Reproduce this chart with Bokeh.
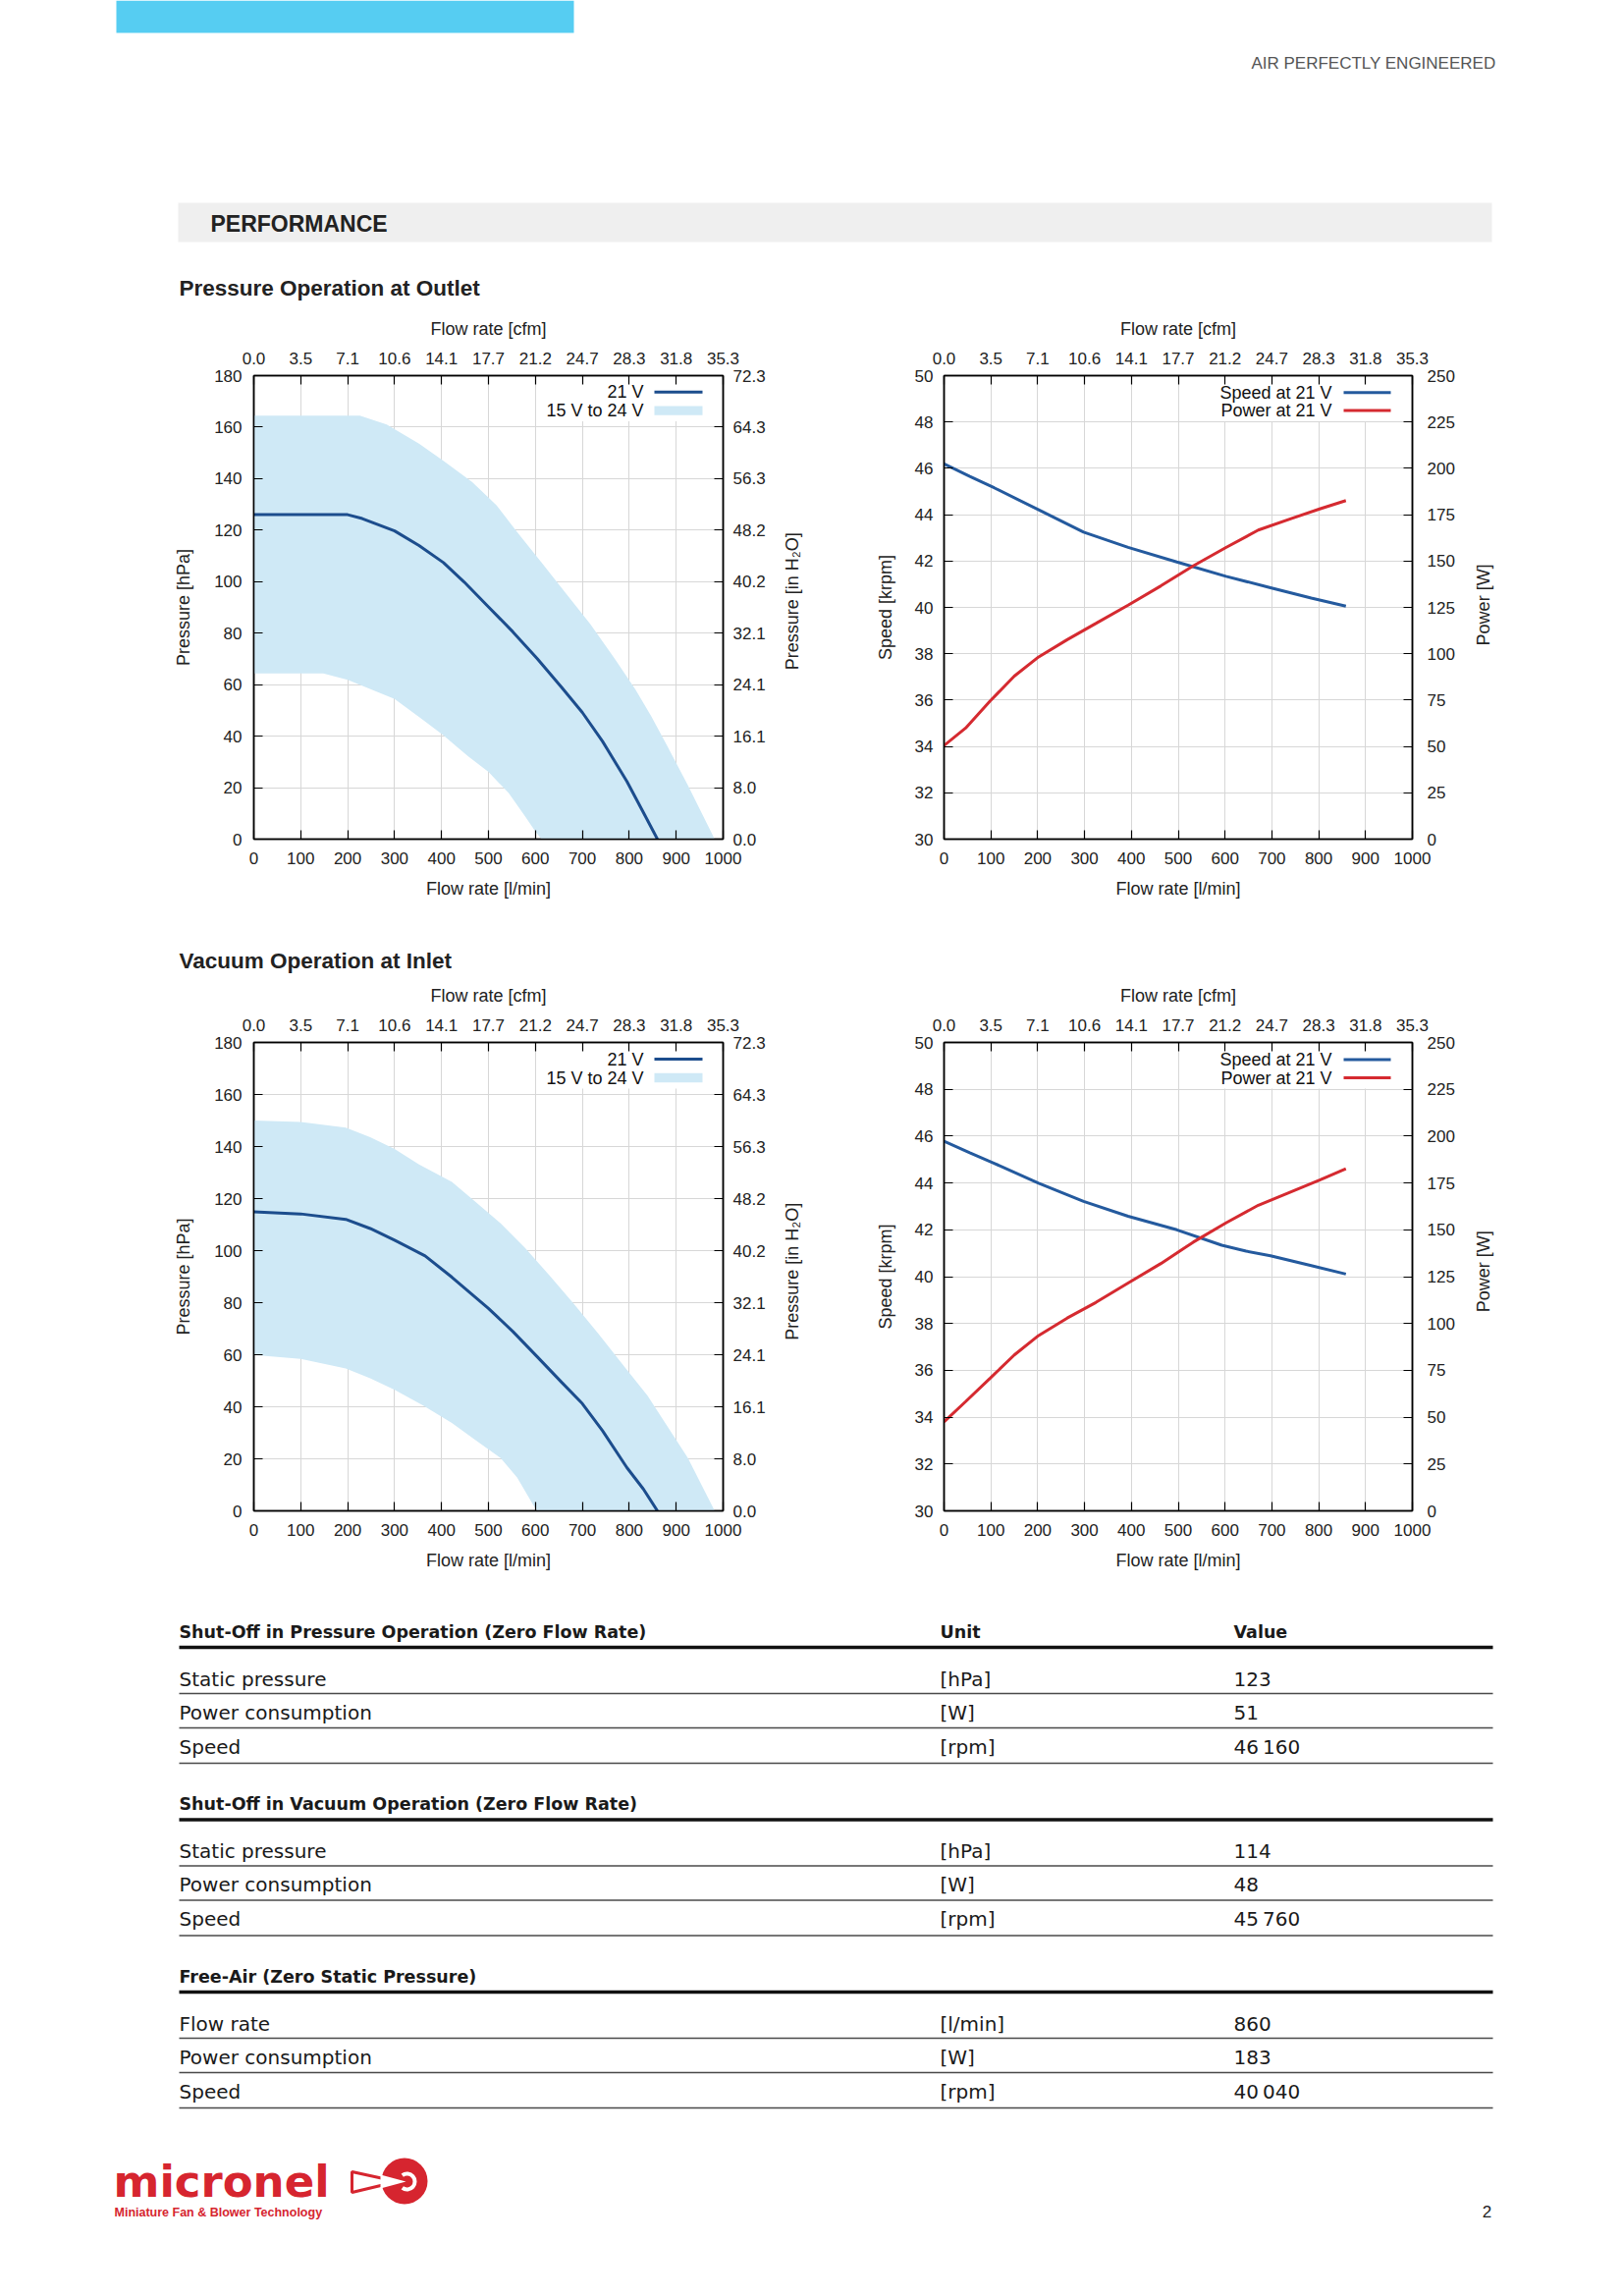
import math
from bokeh.plotting import figure
from bokeh.layouts import column, row
from bokeh.models import Range1d, LinearAxis, FixedTicker, Grid
from bokeh.core.properties import value
from bokeh.embed import file_html
from bokeh.resources import INLINE

# ------------------------------------------------------------------ data
flow_ticks = [0, 100, 200, 300, 400, 500, 600, 700, 800, 900, 1000]
cfm_tick_labels = ["0.0", "3.5", "7.1", "10.6", "14.1", "17.7", "21.2", "24.7", "28.3", "31.8", "35.3"]
pressure_ticks = [0, 20, 40, 60, 80, 100, 120, 140, 160, 180]
inh2o_tick_labels = ["0.0", "8.0", "16.1", "24.1", "32.1", "40.2", "48.2", "56.3", "64.3", "72.3"]
speed_ticks = [30, 32, 34, 36, 38, 40, 42, 44, 46, 48, 50]
power_ticks = [0, 25, 50, 75, 100, 125, 150, 175, 200, 225, 250]

# Pressure operation at outlet
po_21v_flow = [0, 100, 200, 231, 300, 352, 404, 448, 500, 552, 604, 656, 700, 743, 795, 830, 860]
po_21v_pres = [126, 126, 126, 124.5, 119.7, 114, 107.4, 99.9, 90.2, 80.5, 70.1, 58.9, 49.2, 38, 22.4, 10.4, 0]
po_hi_flow = [0, 100, 200, 226, 283, 352, 404, 465, 517, 561, 613, 665, 717, 769, 813, 847, 882, 925, 982]
po_hi_pres = [164.5, 164.5, 164.5, 164.5, 161, 153.6, 146.9, 138.7, 129.7, 119.3, 107.4, 95.4, 83.5, 70.1, 58.2, 47.7, 35.8, 20.9, 0]
po_lo_flow = [0, 100, 148, 200, 300, 361, 404, 457, 500, 543, 578, 600, 613]
po_lo_pres = [64.4, 64.4, 64.4, 61.9, 54.4, 46.2, 40.3, 32.1, 26.1, 17.9, 8.9, 3, 0]

# Vacuum operation at inlet
vo_21v_flow = [0, 100, 196, 248, 300, 365, 422, 500, 552, 604, 656, 700, 743, 795, 830, 860]
vo_21v_pres = [114.9, 114.1, 112, 108.5, 104, 98, 89.8, 77.8, 68.9, 59.2, 49.4, 41.2, 30.8, 16.6, 8.4, 0]
vo_hi_flow = [0, 100, 196, 248, 300, 352, 422, 474, 526, 578, 630, 682, 734, 786, 839, 882, 925, 982]
vo_hi_pres = [150, 149.4, 147.3, 143.6, 139.1, 133.1, 126.4, 118.5, 110.5, 101, 90.5, 79.5, 68.1, 56.2, 44.2, 32.3, 20.3, 0]
vo_lo_flow = [0, 100, 196, 248, 300, 361, 422, 474, 526, 561, 595, 604]
vo_lo_pres = [59.9, 58.4, 54.7, 50.9, 46.5, 40.5, 33.8, 27, 20.3, 12.8, 2.4, 0]

# Speed / power, pressure operation
po_speed_flow = [0, 55, 107, 202, 298, 393, 497, 602, 697, 784, 858]
po_speed_krpm = [46.19, 45.65, 45.16, 44.21, 43.25, 42.59, 41.96, 41.34, 40.85, 40.40, 40.05]
po_power_flow = [0, 46, 98, 150, 202, 263, 324, 393, 463, 532, 602, 671, 741, 802, 858]
po_power_w = [50.5, 59.9, 74.4, 87.9, 98.3, 107.6, 116.3, 126.2, 136.6, 147.4, 157.3, 166.7, 172.9, 178.1, 182.6]

# Speed / power, vacuum operation
vo_speed_flow = [0, 55, 107, 202, 298, 393, 497, 593, 645, 697, 784, 858]
vo_speed_krpm = [45.78, 45.29, 44.84, 43.99, 43.21, 42.58, 42.0, 41.34, 41.09, 40.89, 40.47, 40.11]
vo_power_flow = [0, 46, 98, 150, 202, 263, 324, 393, 463, 532, 602, 671, 741, 802, 858]
vo_power_w = [47.5, 58.3, 70.7, 83.2, 93.6, 102.9, 111.2, 121.6, 132, 143.4, 153.7, 163.1, 170.3, 176.6, 182.6]

# Table
table_sections = ["Shut-Off in Pressure Operation (Zero Flow Rate)",
                  "Shut-Off in Vacuum Operation (Zero Flow Rate)",
                  "Free-Air (Zero Static Pressure)"]
table_params = [["Static pressure", "Power consumption", "Speed"],
                ["Static pressure", "Power consumption", "Speed"],
                ["Flow rate", "Power consumption", "Speed"]]
table_units = [["[hPa]", "[W]", "[rpm]"],
               ["[hPa]", "[W]", "[rpm]"],
               ["[l/min]", "[W]", "[rpm]"]]
table_values = [["123", "51", "46\u2009160"],
                ["114", "48", "45\u2009760"],
                ["860", "183", "40\u2009040"]]

# ------------------------------------------------------------------ style
BAND = "#cfe9f6"
LINE21 = "#1c4d8d"
SPEED = "#245a9e"
POWER = "#d52a30"
GRID = "#d7d7d7"
TXT = "#222222"
FONT = "Liberation Sans"
TFONT = "DejaVu Sans"
RED = "#d6252f"
PAGE_W = 1650


def blank_fig(width, height, x_range, y_range):
    p = figure(width=width, height=height, x_range=x_range, y_range=y_range,
               output_backend="svg", toolbar_location=None, x_axis_location=None, y_axis_location=None,
               min_border_left=0, min_border_right=0, min_border_top=0, min_border_bottom=0,
               title_location=None)
    p.grid.visible = False
    p.outline_line_color = None
    p.background_fill_color = "white"
    p.border_fill_color = "white"
    return p


def page_fig(y0, y1):
    return blank_fig(PAGE_W, y1 - y0, Range1d(0, PAGE_W), Range1d(y1, y0))


def side_title(width, height, text, x_local, y_from_top):
    p = blank_fig(width, height, Range1d(0, width), Range1d(0, height))
    p.text(x=[x_local], y=[height - y_from_top], text=[text], angle=math.pi / 2,
           text_align="center", text_baseline="middle",
           text_font=value(FONT), text_font_size="18px", text_color=TXT)
    return p


def style_axis(ax, label, lab_std, title_std):
    ax.axis_label = label
    ax.axis_label_text_font = FONT
    ax.axis_label_text_font_size = "18px"
    ax.axis_label_text_font_style = "normal"
    ax.axis_label_text_color = TXT
    ax.axis_label_standoff = title_std
    ax.major_label_text_font = FONT
    ax.major_label_text_font_size = "17px"
    ax.major_label_text_color = TXT
    ax.major_label_standoff = lab_std
    ax.major_tick_in = 9
    ax.major_tick_out = 0
    ax.minor_tick_in = 0
    ax.minor_tick_out = 0
    ax.axis_line_color = "black"
    ax.axis_line_width = 1.5
    ax.major_tick_line_color = "black"
    ax.major_tick_line_width = 1.2


def make_chart(width, height, borders, y_lo, y_hi, y_ticks, left_title, left_std, left_tstd):
    bl, br, bt, bb = borders
    p = figure(width=width, height=height, x_range=Range1d(0, 1000), y_range=Range1d(y_lo, y_hi),
               output_backend="svg", toolbar_location=None, x_axis_location=None, y_axis_location=None,
               min_border_left=bl, min_border_right=br, min_border_top=bt, min_border_bottom=bb,
               title_location=None)
    p.grid.visible = False
    p.background_fill_color = "white"
    p.border_fill_color = "white"
    p.outline_line_color = "black"
    p.outline_line_width = 1.5
    p.add_layout(Grid(dimension=0, ticker=FixedTicker(ticks=flow_ticks), grid_line_color=GRID, grid_line_width=1))
    p.add_layout(Grid(dimension=1, ticker=FixedTicker(ticks=y_ticks), grid_line_color=GRID, grid_line_width=1))
    bottom = LinearAxis(ticker=FixedTicker(ticks=flow_ticks))
    style_axis(bottom, "Flow rate [l/min]", 13, 12)
    p.add_layout(bottom, "below")
    top = LinearAxis(ticker=FixedTicker(ticks=flow_ticks),
                     major_label_overrides=dict(zip(flow_ticks, cfm_tick_labels)))
    style_axis(top, "Flow rate [cfm]", 12, 11)
    p.add_layout(top, "above")
    left = LinearAxis(ticker=FixedTicker(ticks=y_ticks))
    style_axis(left, left_title, left_std, left_tstd)
    p.add_layout(left, "left")
    fw = width - bl - br
    fh = height - bt - bb
    return p, fw, fh


def add_legend(p, fw, fh, y_lo, y_hi, entries, text_right, samp_l, samp_r, box_l):
    X = lambda px: px * 1000.0 / fw
    Y = lambda py: y_hi - py * (y_hi - y_lo) / fh
    if box_l is not None:
        p.quad(left=[X(box_l)], right=[X(fw - 6)], top=[Y(1.5)], bottom=[Y(47)],
               fill_color="white", line_color=None)
    for label, kind, color, py in entries:
        p.text(x=[X(text_right)], y=[Y(py)], text=[label], text_align="right", text_baseline="middle",
               text_font=value(FONT), text_font_size="18px", text_color="#111111")
        if kind == "line":
            p.segment(x0=[X(samp_l)], x1=[X(samp_r)], y0=[Y(py)], y1=[Y(py)], line_color=color, line_width=3)
        else:
            p.quad(left=[X(samp_l)], right=[X(samp_r)], top=[Y(py - 4.7)], bottom=[Y(py + 4.7)],
                   fill_color=color, line_color=None)


def pressure_chart(borders, line_f, line_p, hi_f, hi_p, lo_f, lo_p):
    p, fw, fh = make_chart(790, borders[4], borders[:4], 0, 180, pressure_ticks, "Pressure [hPa]", 12, 18)
    right = LinearAxis(ticker=FixedTicker(ticks=pressure_ticks),
                       major_label_overrides=dict(zip(pressure_ticks, inh2o_tick_labels)))
    style_axis(right, None, 10, 15)
    p.add_layout(right, "right")
    add_legend(p, fw, fh, 0, 180, [], 397, 408, 457, 290)
    p.patch(x=hi_f + lo_f[::-1], y=hi_p + lo_p[::-1], fill_color=BAND, line_color=None)
    p.line(x=line_f, y=line_p, line_color=LINE21, line_width=3)
    add_legend(p, fw, fh, 0, 180, [("21 V", "line", LINE21, 17), ("15 V to 24 V", "patch", BAND, 36)],
               397, 408, 457, None)
    return p


def speed_chart(borders, s_f, s_v, w_f, w_v):
    p, fw, fh = make_chart(615, borders[4], borders[:4], 30, 50, speed_ticks, "Speed [krpm]", 11, 17)
    p.extra_y_ranges = {"power": Range1d(0, 250)}
    right = LinearAxis(y_range_name="power", ticker=FixedTicker(ticks=power_ticks))
    style_axis(right, None, 15, 18)
    p.add_layout(right, "right")
    add_legend(p, fw, fh, 30, 50, [], 395, 407, 455, 278)
    p.line(x=s_f, y=s_v, line_color=SPEED, line_width=3)
    p.line(x=w_f, y=w_v, line_color=POWER, line_width=3, y_range_name="power")
    add_legend(p, fw, fh, 30, 50, [("Speed at 21 V", "line", SPEED, 17.5), ("Power at 21 V", "line", POWER, 36)],
               395, 407, 455, None)
    return p


# ------------------------------------------------------------------ header strip (page y 0..308)
head = page_fig(0, 308)
head.quad(left=[118], right=[584], top=[0], bottom=[33], fill_color="#56cdf2", line_color=None)
head.text(x=[1523], y=[64], text=["AIR PERFECTLY ENGINEERED"], text_align="right", text_baseline="middle",
          text_font=value(FONT), text_font_size="17px", text_color="#555555")
head.quad(left=[181], right=[1519], top=[206], bottom=[246], fill_color="#efefef", line_color=None)
head.text(x=[214], y=[227], text=["PERFORMANCE"], text_align="left", text_baseline="middle",
          text_font=value(FONT), text_font_size="23px", text_font_style="bold", text_color=TXT)
head.text(x=[182], y=[293], text=["Pressure Operation at Outlet"], text_align="left", text_baseline="middle",
          text_font=value(FONT), text_font_size="22.5px", text_font_style="bold", text_color=TXT)

# ------------------------------------------------------------------ chart rows (page y 308..940, 993..1620)
# widths: chart 790 | title 90 | chart 615 | title 155  (page x 0..790..880..1495..1650)
c1 = pressure_chart((258, 54, 69, 86, 632), po_21v_flow, po_21v_pres, po_hi_flow, po_hi_pres, po_lo_flow, po_lo_pres)
t1 = side_title(90, 632, "Pressure [in H\u2082O]", 16, 307.5)
c2 = speed_chart((81, 57, 74, 81, 632), po_speed_flow, po_speed_krpm, po_power_flow, po_power_w)
t2 = side_title(155, 632, "Power [W]", 15, 312.5)

sub = page_fig(940, 993)
sub.text(x=[182], y=[978], text=["Vacuum Operation at Inlet"], text_align="left", text_baseline="middle",
         text_font=value(FONT), text_font_size="22.5px", text_font_style="bold", text_color=TXT)

c3 = pressure_chart((258, 54, 68, 82, 627), vo_21v_flow, vo_21v_pres, vo_hi_flow, vo_hi_pres, vo_lo_flow, vo_lo_pres)
t3 = side_title(90, 627, "Pressure [in H\u2082O]", 16, 306.5)
c4 = speed_chart((81, 57, 68, 82, 627), vo_speed_flow, vo_speed_krpm, vo_power_flow, vo_power_w)
t4 = side_title(155, 627, "Power [W]", 15, 306.5)

# ------------------------------------------------------------------ table + footer (page y 1620..2330)
tab = page_fig(1620, 2330)
sec_y = [1661, 1836.5, 2012]
row_dy = [48, 82, 117]
rule_dy = [63, 98, 134]
for i, title in enumerate(table_sections):
    y0 = sec_y[i]
    tab.text(x=[182], y=[y0], text=[title], text_align="left", text_baseline="middle",
             text_font=value(TFONT), text_font_size="17.5px", text_font_style="bold", text_color="#1a1a1a")
    if i == 0:
        tab.text(x=[957, 1256], y=[y0, y0], text=["Unit", "Value"], text_align="left", text_baseline="middle",
                 text_font=value(TFONT), text_font_size="17.5px", text_font_style="bold", text_color="#1a1a1a")
    tab.segment(x0=[182], x1=[1520], y0=[y0 + 16], y1=[y0 + 16], line_color="#111111", line_width=3.5)
    for j in range(3):
        yy = y0 + row_dy[j]
        tab.text(x=[182, 957, 1256], y=[yy, yy, yy],
                 text=[table_params[i][j], table_units[i][j], table_values[i][j]],
                 text_align="left", text_baseline="middle",
                 text_font=value(TFONT), text_font_size="20px", text_color="#1a1a1a")
        yl = y0 + rule_dy[j]
        tab.segment(x0=[182], x1=[1520], y0=[yl], y1=[yl], line_color="#4a4a4a", line_width=1.4)

# logo
tab.text(x=[115], y=[2221], text=["micronel"], text_align="left", text_baseline="middle",
         text_font=value(TFONT), text_font_size="45px", text_font_style="bold", text_color=RED)
tab.text(x=[116], y=[2252], text=["Miniature Fan & Blower Technology"], text_align="left", text_baseline="middle",
         text_font=value(FONT), text_font_size="12.5px", text_font_style="bold", text_color=RED)
tab.patch(x=[358, 358, 404], y=[2211, 2232, 2221], fill_color=None, line_color=RED, line_width=3)
tab.circle(x=[411.5], y=[2220.5], radius=23.5, fill_color=RED, line_color=None)
tab.annular_wedge(x=[414], y=[2221], inner_radius=6, outer_radius=10, start_angle=-2.2, end_angle=2.2,
                  fill_color="white", line_color=None)
tab.patch(x=[387, 387, 413], y=[2214, 2228, 2221], fill_color="white", line_color=None)
tab.text(x=[1514], y=[2251], text=["2"], text_align="center", text_baseline="middle",
         text_font=value(FONT), text_font_size="17px", text_color=TXT)

layout = column(head, row(c1, t1, c2, t2), sub, row(c3, t3, c4, t4), tab)

with open("out.html", "w") as f:
    f.write(file_html(layout, INLINE))
